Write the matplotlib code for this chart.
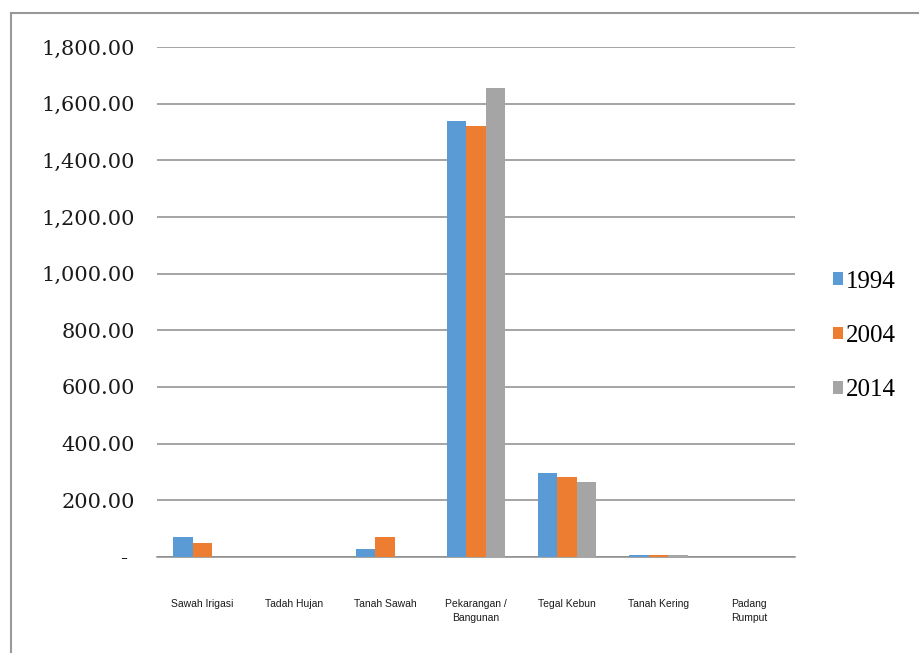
import matplotlib
matplotlib.use("Agg")
import matplotlib.pyplot as plt
from matplotlib.lines import Line2D
import numpy as np

categories = ["Sawah Irigasi", "Tadah Hujan", "Tanah Sawah", "Pekarangan /\nBangunan",
              "Tegal Kebun", "Tanah Kering", "Padang\nRumput"]
years = ["1994", "2004", "2014"]
v1994 = [70, 0, 28, 1540, 296, 8, 0]
v2004 = [49, 0, 70, 1520, 282, 8, 0]
v2014 = [0, 0, 0, 1655, 265, 8, 0]
series = [v1994, v2004, v2014]
colors = ["#5B9BD5", "#ED7D31", "#A5A5A5"]
yticks = [0, 200, 400, 600, 800, 1000, 1200, 1400, 1600, 1800]

fig = plt.figure(figsize=(9.2, 6.53), dpi=100)
ax = fig.add_axes([157/920, 1-557/653, (795-157)/920, (557-47)/653])

x = np.arange(len(categories))
w = 0.214
for i, (vals, c, yr) in enumerate(zip(series, colors, years)):
    ax.bar(x + (i-1)*w, vals, width=w, color=c, label=yr, zorder=3)

ax.set_xlim(-0.5, len(categories)-0.5)
ax.set_ylim(0, 1800)
ax.set_yticks(yticks)
ax.set_yticklabels(["- " if t == 0 else f"{t:,.2f}" for t in yticks],
                   family="DejaVu Serif", fontsize=15, color="#1a1a1a")
ax.yaxis.grid(True, color="#8c8c8c", linewidth=1.1, zorder=0)
ax.set_axisbelow(True)
ax.set_xticks(x)
ax.set_xticklabels(categories, family="Liberation Sans", fontsize=7.5, color="#1a1a1a",
                   linespacing=1.5)
ax.tick_params(axis="y", length=0, pad=16)
ax.tick_params(axis="x", length=0, pad=30)
for s in ["left", "right", "top"]:
    ax.spines[s].set_visible(False)
ax.spines["bottom"].set_color("#8c8c8c")
ax.spines["bottom"].set_linewidth(1.1)

fig.legend(loc="center left", bbox_to_anchor=(833/920, 1-336/653), frameon=False,
           prop={"family": "Liberation Serif", "size": 18}, handlelength=0.4,
           handleheight=0.4, handletextpad=0.12, labelspacing=1.3, borderpad=0,
           borderaxespad=0)

fig.add_artist(Line2D([11/920, 11/920], [0, 1-13/653], transform=fig.transFigure,
                      color="#999999", linewidth=1.5))
fig.add_artist(Line2D([11/920, 1], [1-13/653, 1-13/653], transform=fig.transFigure,
                      color="#999999", linewidth=1.5))

fig.savefig("out.png", dpi=100)
